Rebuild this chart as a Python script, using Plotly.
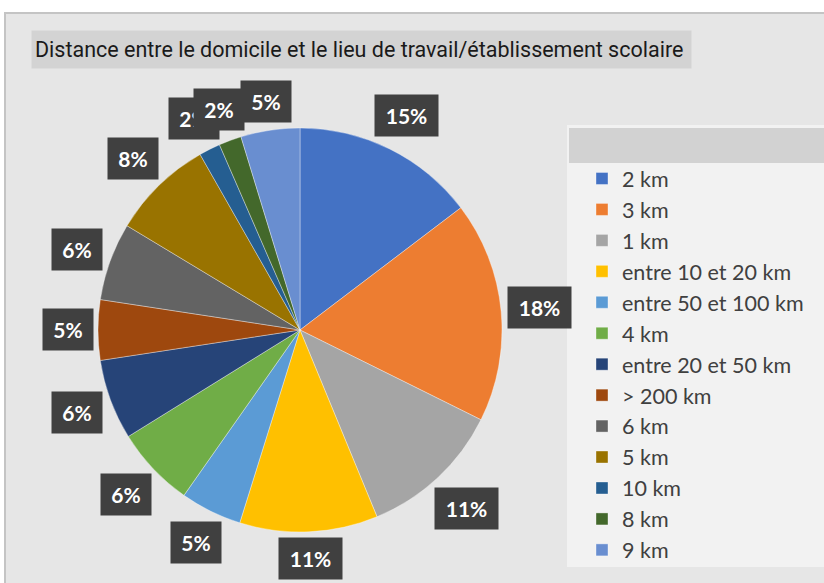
import math
import plotly.graph_objects as go

W, H = 824, 583

title_text = "Distance entre le domicile et le lieu de travail/établissement scolaire"
categories = ["2 km", "3 km", "1 km", "entre 10 et 20 km", "entre 50 et 100 km", "4 km",
              "entre 20 et 50 km", "> 200 km", "6 km", "5 km", "10 km", "8 km", "9 km"]
values = [14.6, 17.6, 11.4, 11.0, 4.9, 6.4, 6.4, 4.8, 6.2, 8.1, 1.7, 1.8, 4.7]
colors = ["#4472C4", "#ED7D31", "#A5A5A5", "#FFC000", "#5B9BD5", "#70AD47",
          "#264478", "#9E480E", "#636363", "#997300", "#255E91", "#43682B", "#698ED0"]


def fx(x):
    return x / W


def fy(y):
    return 1 - y / H


# pie geometry (pixels)
cx, cy, r = 300, 330, 202
gap = 5
box_h = 41

fig = go.Figure()
fig.add_trace(go.Pie(
    labels=categories,
    values=values,
    sort=False,
    direction="clockwise",
    rotation=0,
    textinfo="none",
    hoverinfo="label+percent",
    marker=dict(colors=colors, line=dict(color="rgba(255,255,255,0.6)", width=0.6)),
    domain=dict(x=[fx(cx - r), fx(cx + r)], y=[fy(cy + r), fy(cy - r)]),
))

# data labels computed from values
total = sum(values)
annotations = []
cum = 0.0
for v in values:
    mid = (cum + v / 2) / total
    cum += v
    ang = 2 * math.pi * mid
    txt = f"{round(100 * v / total)}%"
    box_w = 50 if len(txt) == 2 else 63
    s, c = math.sin(ang), math.cos(ang)
    rr = r + gap + (box_w / 2) * abs(s) + (box_h / 2) * abs(c)
    lx = cx + rr * s
    ly = cy - rr * c
    annotations.append(dict(
        x=fx(lx), y=fy(ly), xref="paper", yref="paper",
        text=txt, showarrow=False,
        font=dict(family="Lato", size=21, color="white", weight="bold"),
        bgcolor="#404040", borderpad=6,
        width=box_w - 12, height=box_h - 12,
        xanchor="center", yanchor="middle",
    ))

# title
annotations.append(dict(
    x=fx(31), y=fy(30), xref="paper", yref="paper", xanchor="left", yanchor="top",
    text=title_text, showarrow=False, align="left",
    font=dict(family="Liberation Sans Narrow, Roboto, sans-serif", size=21.5, color="#1a1a1a"),
    bgcolor="#d3d3d3", borderpad=3, width=653, height=31,
))

shapes = [
    # chart area
    dict(type="rect", xref="paper", yref="paper", x0=fx(5), x1=fx(840), y0=fy(13), y1=fy(600),
         fillcolor="#e6e6e6", line=dict(color="#c4c4c4", width=2), layer="below"),
    # legend body
    dict(type="rect", xref="paper", yref="paper", x0=fx(567), x1=fx(840), y0=fy(125), y1=fy(567),
         fillcolor="#f2f2f2", line=dict(width=0), layer="below"),
    # legend header
    dict(type="rect", xref="paper", yref="paper", x0=fx(569), x1=fx(840), y0=fy(128), y1=fy(163),
         fillcolor="#d2d2d2", line=dict(width=0), layer="below"),
]

fig.update_layout(
    width=W, height=H,
    margin=dict(l=0, r=0, t=0, b=0),
    paper_bgcolor="white",
    plot_bgcolor="rgba(0,0,0,0)",
    showlegend=True,
    legend=dict(
        x=fx(582), y=fy(158), xanchor="left", yanchor="top",
        bgcolor="rgba(0,0,0,0)",
        font=dict(family="Lato", size=21.5, color="#404040"),
        traceorder="normal",
    ),
    annotations=annotations,
    shapes=shapes,
)

fig.write_html("out.html", config={"displayModeBar": False},
               post_script="document.body.style.margin='0';")
